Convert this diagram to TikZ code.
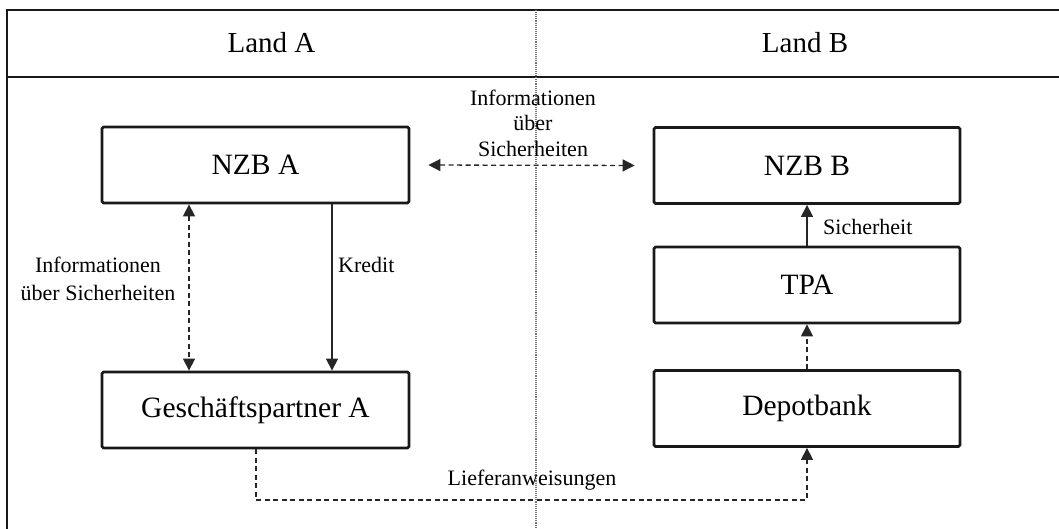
\documentclass[tikz,border=0pt]{standalone}
\usepackage{fontspec}
\setmainfont{Liberation Serif}
\usetikzlibrary{arrows.meta}
\begin{document}
\begin{tikzpicture}[x=1pt,y=-1pt,
  frameline/.style={line width=2.8pt,draw=black!90},
  stepbox/.style={draw=black!90,line width=2.8pt,rounded corners=1.5pt,minimum height=76pt,inner sep=0pt,font=\fontsize{29.5}{31}\selectfont},
  leftbox/.style={stepbox,minimum width=307pt},
  rightbox/.style={stepbox,minimum width=306pt},
  tip/.tip={Triangle[length=12pt,width=12pt]},
  conn/.style={line width=1.3pt,draw=black!85,-tip},
  dconn/.style={conn,dash pattern=on 5pt off 3.5pt},
  lbl/.style={font=\fontsize{22}{25.5}\selectfont,inner sep=0pt,align=center},
  hdr/.style={font=\fontsize{29}{31}\selectfont,inner sep=0pt}]
\useasboundingbox (0,0) rectangle (1059,529);
% frame
\draw[frameline] (1070,10) -- (7,10) -- (7,540);
\draw[frameline] (7,77) -- (1070,77);
\draw[line width=1.1pt,draw=black!55,densely dotted] (536,10) -- (536,540);
\node[hdr] (landa) at (271.5,43) {Land A};
\node[hdr] (landb) at (805,43) {Land B};
% boxes
\node[leftbox] (nzba) at (255.5,165) {NZB A};
\node[leftbox] (gpa) at (255.5,410) {Gesch\"aftspartner A};
\node[rightbox] (nzbb) at (807,165.5) {NZB B};
\node[rightbox] (tpa) at (807,285) {TPA};
\node[rightbox] (depot) at (807,408.5) {Depotbank};
% helper coordinates
\coordinate (kx) at (332,0);
\coordinate (ix) at (189,0);
\coordinate (lx) at (256,0);
\coordinate (ly) at (0,500);
% connectors
\draw[conn] (nzba.south -| kx) -- (gpa.north -| kx);
\draw[dconn,tip-tip] (nzba.south -| ix) -- (gpa.north -| ix);
\draw[dconn,tip-tip,shorten <=18pt,shorten >=18pt] (nzba.east) -- (nzbb.west);
\draw[conn] (tpa.north) -- (nzbb.south);
\draw[dconn] (depot.north) -- (tpa.south);
\draw[dconn] (gpa.south -| lx) -- (lx |- ly) -| (depot.south);
% labels
\node[lbl] (lblinfo) at (98,279) {Informationen\\[2.5pt]\"uber Sicherheiten};
\node[lbl,anchor=west] (lblkredit) at (338,265) {Kredit};
\node[lbl] (lbltop) at (533,123) {Informationen\\\"uber\\Sicherheiten};
\node[lbl,anchor=west] (lblsich) at (823,227) {Sicherheit};
\node[lbl] (lblliefer) at (532,480) {Lieferanweisungen};
\end{tikzpicture}
\end{document}
